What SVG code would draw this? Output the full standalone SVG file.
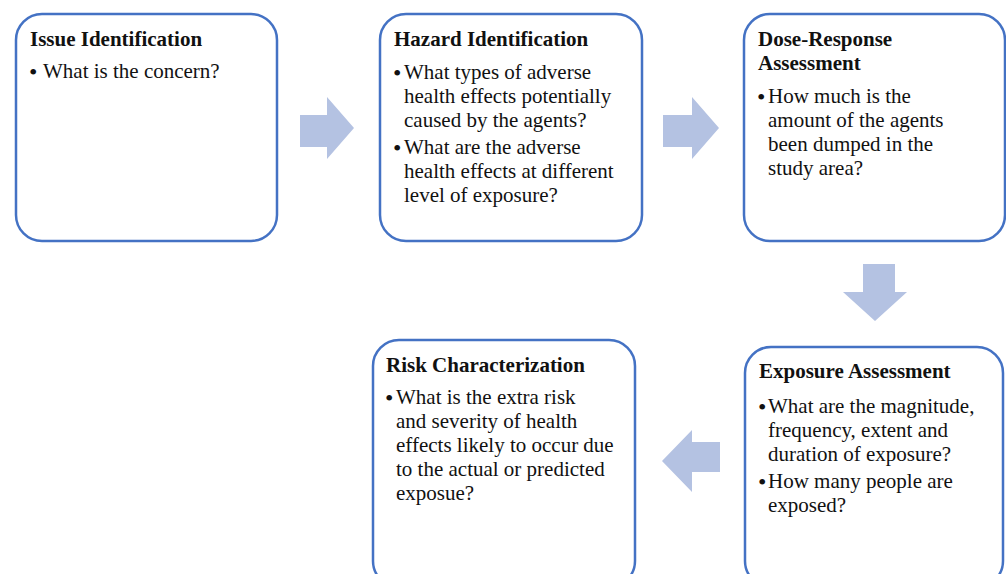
<svg xmlns="http://www.w3.org/2000/svg" width="1006" height="574" viewBox="0 0 1006 574">
<style>
.box{fill:#fff;stroke:#4472C4;stroke-width:2.5}
.arr{fill:#B4C2E2}
text{font-family:"Liberation Serif","Times New Roman",serif;font-size:21px;fill:#111}
.t{font-weight:bold}
.b{font-size:24px}
</style>
<rect width="1006" height="574" fill="#fff"/>
<g id="connectors">
<polygon class="arr" points="300,115 327,115 327,97 354,128 327,159 327,147 300,147"/>
<polygon class="arr" points="663,115 692,115 692,97 719,128 692,159 692,147 663,147"/>
<polygon class="arr" points="863,264 895,264 895,292 907,292 875,321 843,292 863,292"/>
<polygon class="arr" points="720,442 692,442 692,430 662,461 692,492 692,472 720,472"/>
</g>
<g id="issue">
<rect class="box" x="16" y="14" width="261" height="227" rx="26"/>
<text class="t" x="30" y="46">Issue Identification</text>
<text class="b" x="29" y="80">•</text><text x="43" y="78">What is the concern?</text>
</g>
<g id="hazard">
<rect class="box" x="380" y="14" width="262" height="227" rx="26"/>
<text class="t" x="394" y="46">Hazard Identification</text>
<text class="b" x="393" y="81">•</text><text x="404" y="79">What types of adverse</text>
<text x="404" y="103">health effects potentially</text>
<text x="404" y="127">caused by the agents?</text>
<text class="b" x="393" y="156">•</text><text x="404" y="154">What are the adverse</text>
<text x="404" y="178">health effects at different</text>
<text x="404" y="202">level of exposure?</text>
</g>
<g id="dose">
<rect class="box" x="744" y="14" width="261" height="227" rx="26"/>
<text class="t" x="758" y="46">Dose-Response</text>
<text class="t" x="758" y="70">Assessment</text>
<text class="b" x="757" y="105">•</text><text x="768" y="103">How much is the</text>
<text x="768" y="127">amount of the agents</text>
<text x="768" y="151">been dumped in the</text>
<text x="768" y="175">study area?</text>
</g>
<g id="exposure">
<rect class="box" x="745" y="347" width="258" height="240" rx="26"/>
<text class="t" x="759" y="378">Exposure Assessment</text>
<text class="b" x="758" y="415">•</text><text x="768" y="413">What are the magnitude,</text>
<text x="768" y="437">frequency, extent and</text>
<text x="768" y="461">duration of exposure?</text>
<text class="b" x="758" y="490">•</text><text x="768" y="488">How many people are</text>
<text x="768" y="512">exposed?</text>
</g>
<g id="risk">
<rect class="box" x="373" y="340" width="262" height="247" rx="26"/>
<text class="t" x="386" y="372">Risk Characterization</text>
<text class="b" x="385" y="406">•</text><text x="396" y="404">What is the extra risk</text>
<text x="396" y="428">and severity of health</text>
<text x="396" y="452">effects likely to occur due</text>
<text x="396" y="476">to the actual or predicted</text>
<text x="396" y="500">exposue?</text>
</g>
</svg>
